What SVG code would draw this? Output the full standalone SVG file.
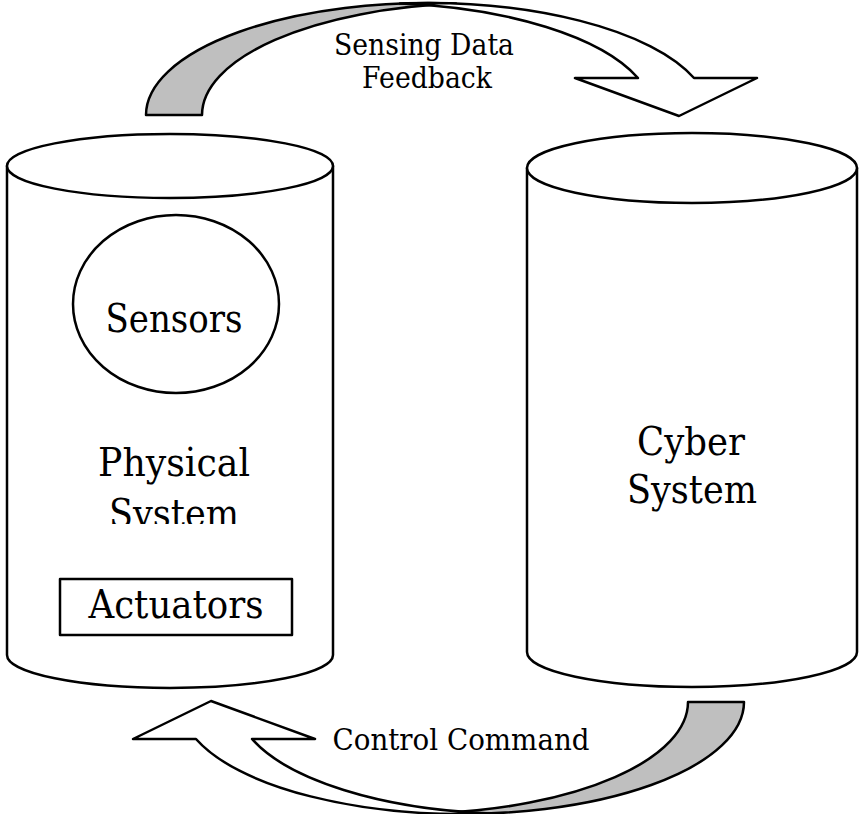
<svg xmlns="http://www.w3.org/2000/svg" xmlns:xlink="http://www.w3.org/1999/xlink" width="860" height="814" viewBox="0 0 860 814">
  <style>
    .line { stroke: #000; stroke-width: 2.5; stroke-linejoin: round; }
    .body { fill: #fff; }
    .shade { fill: #bfbfbf; }
    text { font-family: 'DejaVu Serif', serif; fill: #000; text-anchor: middle; }
    .big { font-size: 40px; }
    .small { font-size: 29px; }
  </style>
  <defs>
    <!-- curved ribbon arrow: shaded back band on the left, white front band ending in the head -->
    <g id="curved-arrow">
      <path class="shade line" d="M146,115 A282,112 0 0 1 456,3.6 A282,112 0 0 0 202,115 Z"/>
      <path class="body line" d="M400,3.6 A282,112 0 0 1 694,78 L757,78 L679,116 L575,78 L638,78 A282,112 0 0 0 400,3.6 Z"/>
    </g>
    <clipPath id="phys-clip">
      <rect x="0" y="0" width="860" height="524"/>
    </clipPath>
  </defs>

  <rect width="860" height="814" fill="#fff"/>

  <g id="physical-system">
    <path class="body line" d="M7,166 L7,655 A163,33 0 0 0 333,655 L333,166 Z"/>
    <ellipse class="body line" cx="170" cy="166" rx="163" ry="32"/>
    <g clip-path="url(#phys-clip)">
      <text class="big" x="174" y="476" textLength="152" lengthAdjust="spacingAndGlyphs">Physical</text>
      <text class="big" x="174" y="527" textLength="130" lengthAdjust="spacingAndGlyphs">System</text>
    </g>
  </g>

  <g id="sensors">
    <ellipse class="body line" cx="176" cy="304" rx="103" ry="89"/>
    <text class="big" x="174" y="332" textLength="137" lengthAdjust="spacingAndGlyphs">Sensors</text>
  </g>

  <g id="actuators">
    <rect class="body line" x="60" y="579" width="232" height="56"/>
    <text class="big" x="176" y="618" textLength="175" lengthAdjust="spacingAndGlyphs">Actuators</text>
  </g>

  <g id="cyber-system">
    <path class="body line" d="M527,168 L527,652 A165,35 0 0 0 857,652 L857,168 Z"/>
    <ellipse class="body line" cx="692" cy="168" rx="165" ry="35"/>
    <text class="big" x="691" y="455" textLength="108" lengthAdjust="spacingAndGlyphs">Cyber</text>
    <text class="big" x="692" y="503" textLength="130" lengthAdjust="spacingAndGlyphs">System</text>
  </g>

  <g id="connectors">
    <g id="sensing-feedback">
      <use xlink:href="#curved-arrow"/>
      <text class="small" x="424" y="55" textLength="180" lengthAdjust="spacingAndGlyphs">Sensing Data</text>
      <text class="small" x="427" y="88" textLength="130" lengthAdjust="spacingAndGlyphs">Feedback</text>
    </g>
    <g id="control-command">
      <use xlink:href="#curved-arrow" transform="rotate(180 445 408.5)"/>
      <text class="small" x="461" y="750" textLength="257" lengthAdjust="spacingAndGlyphs">Control Command</text>
    </g>
  </g>
</svg>
